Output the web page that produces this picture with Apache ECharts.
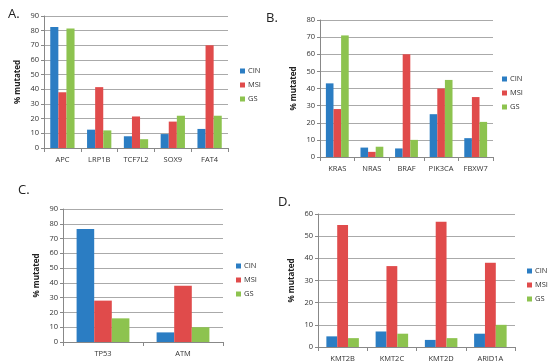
<!DOCTYPE html>
<html><head><meta charset="utf-8">
<script src="https://cdn.jsdelivr.net/npm/echarts@6/dist/echarts.min.js"></script>
<style>html,body{margin:0;padding:0;background:#fff}#c{width:550px;height:363px}</style>
</head><body><div id="c"></div>
<script>
const seriesNames = ['CIN','MSI','GS'];
const catsA = ['APC','LRP1B','TCF7L2','SOX9','FAT4'];
const cinA = [82.5,12.5,8,9.5,13];
const msiA = [38,41.5,21.5,18,70];
const gsA  = [81.5,12,6,22,22];
const catsB = ['KRAS','NRAS','BRAF','PIK3CA','FBXW7'];
const cinB = [43,5.5,5,25,11];
const msiB = [28,3,60,40,35];
const gsB  = [71,6,10,45,20.5];
const catsC = ['TP53','ATM'];
const cinC = [76.5,6.5];
const msiC = [28,38];
const gsC  = [16,10];
const catsD = ['KMT2B','KMT2C','KMT2D','ARID1A'];
const cinD = [4.8,7,3.2,6];
const msiD = [55,36.5,56.5,38];
const gsD  = [4,6,4,10];
const yMax = [90,80,90,60];

const colors = ['#2B7DC3','#E04B4B','#8DC34F'];
const font = 'Open Sans';
const grids = [
  {left:44, top:16, width:184, height:132},
  {left:320, top:20, width:173, height:137},
  {left:63, top:209, width:160, height:133},
  {left:318, top:214, width:197, height:133}
];
const cats = [catsA,catsB,catsC,catsD];
const data = [[cinA,msiA,gsA],[cinB,msiB,gsB],[cinC,msiC,gsC],[cinD,msiD,gsD]];
const legendPos = [{left:240,top:67},{left:502,top:75},{left:236,top:262},{left:527,top:267}];
const titles = [['A.',3,3],['B.',261,7],['C.',13,179],['D.',273,191]];

const option = {
  animation:false,
  color:colors,
  grid: grids,
  title: titles.map(t=>({text:t[0], left:t[1], top:t[2], textStyle:{fontFamily:font, fontSize:13, fontWeight:'normal', color:'#222'}})),
  xAxis: cats.map((c,i)=>({type:'category', gridIndex:i, data:c,
    axisLine:{lineStyle:{color:'#888'}},
    axisTick:{show:true, length:4, lineStyle:{color:'#888'}},
    axisLabel:{fontFamily:font, fontSize:7.5, color:'#333', margin:8}})),
  yAxis: yMax.map((m,i)=>({type:'value', gridIndex:i, min:0, max:m, interval:10,
    name:'% mutated', nameLocation:'middle', nameGap:22,
    nameTextStyle:{fontFamily:font, fontSize:8, fontWeight:'bold', color:'#222'},
    axisLine:{show:true, lineStyle:{color:'#888'}},
    axisTick:{show:true, length:3, lineStyle:{color:'#888'}},
    splitLine:{lineStyle:{color:'#aaa', width:1}},
    axisLabel:{fontFamily:font, fontSize:7.5, color:'#333', margin:5}})),
  legend: legendPos.map((p,i)=>({left:p.left, top:p.top, orient:'vertical', itemWidth:5, itemHeight:5, itemGap:6,
    icon:'rect', padding:0, data: seriesNames.map(n=>n+'_'+i),
    formatter: n=>n.split('_')[0],
    textStyle:{fontFamily:font, fontSize:7.5, color:'#333', padding:[0,0,0,-2]}})),
  series: []
};
for(let i=0;i<4;i++){
  for(let s=0;s<3;s++){
    option.series.push({type:'bar', name:seriesNames[s]+'_'+i, xAxisIndex:i, yAxisIndex:i,
      data:data[i][s], itemStyle:{color:colors[s]}, barGap:'0%', barCategoryGap:'34%'});
  }
}
const chart = echarts.init(document.getElementById('c'), null, {renderer:'canvas'});
chart.setOption(option);
</script></body></html>
